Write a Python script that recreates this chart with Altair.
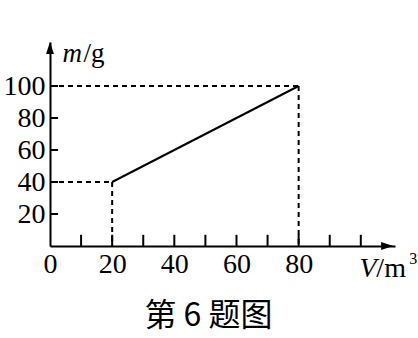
import altair as alt
import pandas as pd

# data
line_v = [20, 80]
line_m = [40, 100]
x_ticks = [10, 20, 30, 40, 50, 60, 70, 80, 90, 100]
x_labels = [0, 20, 40, 60, 80]
y_ticks = [20, 40, 60, 80, 100]

X_MAX = 111
Y_MAX = 127.5
SERIF = "Liberation Serif"

xs = alt.Scale(domain=[0, X_MAX], nice=False, zero=False)
ys = alt.Scale(domain=[0, Y_MAX], nice=False, zero=False)

df_line = pd.DataFrame({"v": line_v, "m": line_m})

guides = []
for v, m in zip(line_v, line_m):
    guides.append({"x": 0, "y": m, "x2": v, "y2": m})
    guides.append({"x": v, "y": m, "x2": v, "y2": 0})
df_guides = pd.DataFrame(guides)

base = alt.Chart(df_line).mark_line(color="black", strokeWidth=2).encode(
    x=alt.X("v:Q", scale=xs, axis=alt.Axis(
        values=x_labels, ticks=False, grid=False, domain=True, domainColor="black",
        domainWidth=2, labelFont=SERIF, labelFontSize=28, labelColor="black",
        labelPadding=4, title=None, labelFlush=False)),
    y=alt.Y("m:Q", scale=ys, axis=alt.Axis(
        values=y_ticks, ticks=False, grid=False, domain=True, domainColor="black",
        domainWidth=2, labelFont=SERIF, labelFontSize=28, labelColor="black",
        labelPadding=5, title=None, labelFlush=False)),
)

dashes = alt.Chart(df_guides).mark_rule(color="black", strokeWidth=2, strokeDash=[5, 4]).encode(
    x=alt.X("x:Q", scale=xs), y=alt.Y("y:Q", scale=ys),
    x2="x2:Q", y2="y2:Q",
)

df_xt = pd.DataFrame({"x": x_ticks, "y": [0] * len(x_ticks), "y2": [7] * len(x_ticks)})
xt = alt.Chart(df_xt).mark_rule(color="black", strokeWidth=2).encode(
    x=alt.X("x:Q", scale=xs), y=alt.Y("y:Q", scale=ys), y2="y2:Q")

df_yt = pd.DataFrame({"y": y_ticks, "x": [0] * len(y_ticks), "x2": [2.6] * len(y_ticks)})
yt = alt.Chart(df_yt).mark_rule(color="black", strokeWidth=2).encode(
    y=alt.Y("y:Q", scale=ys), x=alt.X("x:Q", scale=xs), x2="x2:Q")

up = alt.Chart(pd.DataFrame({"x": [0], "y": [Y_MAX]})).mark_point(
    shape="M0,0L-0.33,1L0.33,1Z", size=576, filled=True, color="black", opacity=1
).encode(x=alt.X("x:Q", scale=xs), y=alt.Y("y:Q", scale=ys))

right = alt.Chart(pd.DataFrame({"x": [X_MAX - 0.6], "y": [0]})).mark_point(
    shape="M0,0L-1,-0.33L-1,0.33Z", size=576, filled=True, color="black", opacity=1
).encode(x=alt.X("x:Q", scale=xs), y=alt.Y("y:Q", scale=ys))

def txt(s, x, y, size=27, style="normal"):
    return alt.Chart(pd.DataFrame({"x": [x], "y": [y], "t": [s]})).mark_text(
        font=SERIF, fontSize=size, fontStyle=style, color="black",
        align="left", baseline="alphabetic"
    ).encode(x=alt.X("x:Q", scale=xs), y=alt.Y("y:Q", scale=ys), text="t:N")

labels = (
    txt("m", 4.0, 115, style="italic") + txt("/g", 10.8, 115) +
    txt("V", 99.6, -19.5, size=28, style="italic") + txt("/m", 105.0, -19.5, size=28) +
    txt("3", 115.6, -11.5, size=16)
)

chart = (base + dashes + xt + yt + up + right + labels).properties(
    width=345, height=204,
    autosize=alt.AutoSizeParams(type="none"),
    padding={"left": 50, "top": 42, "right": 23, "bottom": 92},
    title=alt.TitleParams("第 6 题图", orient="bottom", anchor="middle",
                          font="Noto Sans CJK SC", fontSize=32, fontWeight="normal",
                          color="black", offset=18, dx=-14),
    background="white",
).configure_view(stroke=None)

chart.save("out.html", embed_options={"renderer": "svg", "actions": False})
